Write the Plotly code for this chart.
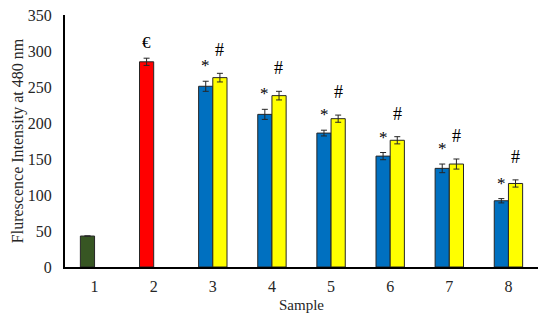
import plotly.graph_objects as go

categories = ["1", "2", "3", "4", "5", "6", "7", "8"]
series_a = [43, 285, 251, 212, 186, 154, 137, 92]
series_a_err = [0, 5, 7, 7, 4, 5, 6, 3]
series_a_colors = ["#375623", "#FF0000", "#0070C0", "#0070C0", "#0070C0", "#0070C0", "#0070C0", "#0070C0"]
series_a_marks = ["", "€", "*", "*", "*", "*", "*", "*"]
series_b = [None, None, 263, 238, 206, 176, 143, 116]
series_b_err = [0, 0, 6, 6, 5, 5, 7, 5]
series_b_marks = ["", "", "#", "#", "#", "#", "#", "#"]

font = "Liberation Serif"

fig = go.Figure()
fig.add_trace(go.Bar(
    x=categories, y=series_a,
    marker=dict(color=series_a_colors, line=dict(color="#262626", width=1)),
    error_y=dict(type="data", array=series_a_err, color="#262626", thickness=1, width=3),
    offsetgroup="a",
))
fig.add_trace(go.Bar(
    x=categories, y=series_b,
    marker=dict(color="#FFFF00", line=dict(color="#262626", width=1)),
    error_y=dict(type="data", array=series_b_err, color="#262626", thickness=1, width=3),
    offsetgroup="b",
))

annotations = []
for i, c in enumerate(categories):
    if series_a_marks[i]:
        annotations.append(dict(
            x=i, xshift=-7, y=series_a[i] + series_a_err[i], yref="y",
            text=series_a_marks[i], showarrow=False, yanchor="bottom", yshift=4,
            font=dict(family=font, size=17, color="#000000")))
    if series_b_marks[i]:
        annotations.append(dict(
            x=i, xshift=7, y=series_b[i] + series_b_err[i], yref="y",
            text=series_b_marks[i], showarrow=False, yanchor="bottom", yshift=11,
            font=dict(family=font, size=18, color="#000000")))

annotations.append(dict(
    text="Flurescence Intensity at 480 nm", textangle=-90,
    xref="paper", yref="paper", x=-0.099, y=0.5, xanchor="center", yanchor="middle",
    showarrow=False, font=dict(family=font, size=16, color="#262626"),
))
annotations.append(dict(
    text="Sample",
    xref="paper", yref="paper", x=0.5, y=-0.151, xanchor="center", yanchor="middle",
    showarrow=False, font=dict(family=font, size=15, color="#262626"),
))

fig.update_layout(
    width=550, height=325,
    margin=dict(l=65, r=12, t=15, b=58, autoexpand=False),
    paper_bgcolor="white", plot_bgcolor="white",
    showlegend=False,
    barmode="group", bargap=0.52, bargroupgap=0,
    font=dict(family=font, size=16, color="#262626"),
    annotations=annotations,
    xaxis=dict(
        automargin=False,
        showline=True, linecolor="#000000", linewidth=2, ticks="",
        tickfont=dict(family=font, size=16), showgrid=False,
        ticklabelstandoff=4,
    ),
    yaxis=dict(
        automargin=False,
        range=[0, 350], dtick=50, showline=True, linecolor="#000000", linewidth=2, ticks="",
        tickfont=dict(family=font, size=16), showgrid=False, zeroline=False,
        ticklabelstandoff=8,
    ),
)

fig.write_html("out.html", config={"displayModeBar": False},
               post_script="document.body.style.margin='0';")
